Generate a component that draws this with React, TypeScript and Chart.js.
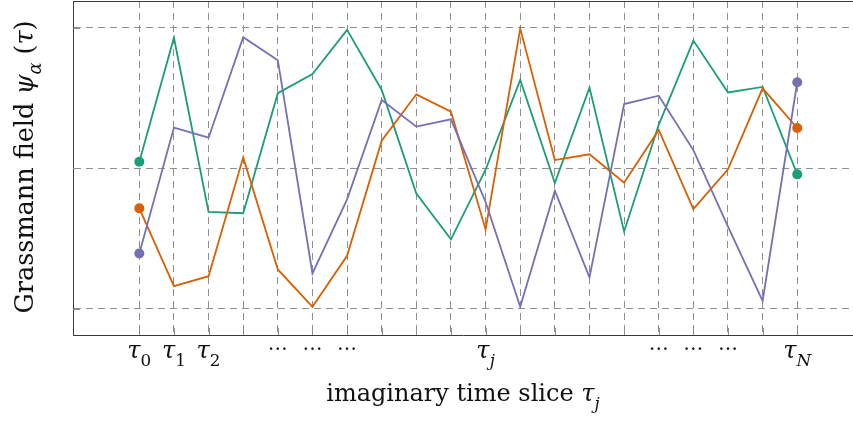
import React, { useEffect, useRef } from "react";
import { Chart, registerables } from "chart.js";

Chart.register(...registerables);

// Imaginary-time slices and their tick labels ("_" marks a subscript)
const sliceIndex = [0, 1, 2, 3, 4, 5, 6, 7, 8, 9, 10, 11, 12, 13, 14, 15, 16, 17, 18, 19];
const tickLabels = [
  "τ_0", "τ_1", "τ_2", "", "…", "…", "…", "", "", "",
  "τ_j", "", "", "", "", "…", "…", "…", "", "τ_N",
];
const levelTicks = [-1, 0, 1];

// Three Grassmann field components along the time slices
const fieldGreen = [0.047, 0.93, -0.31, -0.32, 0.535, 0.672, 0.986, 0.558, -0.18, -0.506, -0.01, 0.63, -0.105, 0.575, -0.45, 0.31, 0.91, 0.54, 0.58, -0.043];
const fieldOrange = [-0.285, -0.839, -0.768, 0.078, -0.72, -0.986, -0.623, 0.197, 0.527, 0.403, -0.435, 0.995, 0.059, 0.1, -0.103, 0.273, -0.29, -0.007, 0.57, 0.287];
const fieldPurple = [-0.606, 0.29, 0.218, 0.934, 0.77, -0.748, -0.221, 0.487, 0.297, 0.349, -0.24, -0.986, -0.16, -0.777, 0.458, 0.517, 0.13, -0.416, -0.944, 0.613];

const GREEN = "#1b9e77";
const ORANGE = "#d95f02";
const PURPLE = "#7570b3";
const FONT = '"DejaVu Serif", serif';
const FONT_SIZE = 24;
const Y_TITLE_SIZE = 25.5;
const AXIS_COLOR = "#3a3a3a";
const GRID_COLOR = "#8f8f8f";

type Seg = { t: string; it?: boolean; sub?: boolean };

function segFont(s: Seg, size: number) {
  const sz = s.sub ? size * 0.7 : size;
  return `${s.it ? "italic " : ""}${sz}px ${FONT}`;
}

function richWidth(ctx: CanvasRenderingContext2D, segs: Seg[], size: number) {
  let w = 0;
  for (const s of segs) {
    ctx.font = segFont(s, size);
    w += ctx.measureText(s.t).width;
  }
  return w;
}

function drawRich(ctx: CanvasRenderingContext2D, segs: Seg[], x: number, y: number, size: number) {
  let cx = x;
  ctx.textAlign = "left";
  ctx.textBaseline = "alphabetic";
  for (const s of segs) {
    ctx.font = segFont(s, size);
    ctx.fillText(s.t, cx, y + (s.sub ? size * 0.33 : 0));
    cx += ctx.measureText(s.t).width;
  }
}

function parseLabel(label: string): Seg[] {
  const [base, sub] = label.split("_");
  const segs: Seg[] = [{ t: base, it: base === "τ" }];
  if (sub !== undefined) segs.push({ t: sub, sub: true, it: /[A-Za-z]/.test(sub) });
  return segs;
}

const xTitle: Seg[] = [{ t: "imaginary time slice " }, { t: "τ", it: true }, { t: "j", it: true, sub: true }];
const yTitle: Seg[] = [
  { t: "Grassmann field " },
  { t: "ψ", it: true },
  { t: "α", it: true, sub: true },
  { t: " (" },
  { t: "τ", it: true },
  { t: ")" },
];

const framePlugin = {
  id: "frame",
  beforeDatasetsDraw(chart: any) {
    const { ctx, chartArea: a, scales } = chart;
    ctx.save();
    ctx.strokeStyle = AXIS_COLOR;
    ctx.lineWidth = 1;
    ctx.beginPath();
    ctx.moveTo(a.left, a.top + 0.5);
    ctx.lineTo(a.right, a.top + 0.5);
    ctx.stroke();
    // inward tick marks
    ctx.strokeStyle = GRID_COLOR;
    ctx.beginPath();
    for (const v of sliceIndex) {
      const x = Math.round(scales.x.getPixelForValue(v)) + 0.5;
      ctx.moveTo(x, a.bottom);
      ctx.lineTo(x, a.bottom - 7);
    }
    for (const v of levelTicks) {
      const y = Math.round(scales.y.getPixelForValue(v)) + 0.5;
      ctx.moveTo(a.left, y);
      ctx.lineTo(a.left + 7, y);
    }
    ctx.stroke();
    ctx.restore();
  },
  afterDraw(chart: any) {
    const { ctx, chartArea: a, scales } = chart;
    ctx.save();
    ctx.fillStyle = "#111";
    // tick labels
    sliceIndex.forEach((v, i) => {
      const label = tickLabels[i];
      if (!label) return;
      const x = scales.x.getPixelForValue(v);
      if (label === "…") {
        ctx.font = `20px ${FONT}`;
        ctx.textAlign = "center";
        ctx.textBaseline = "alphabetic";
        ctx.fillText(label, x, a.bottom + 15);
        return;
      }
      const segs = parseLabel(label);
      const w = richWidth(ctx, segs, FONT_SIZE);
      drawRich(ctx, segs, x - w / 2, a.bottom + 23, FONT_SIZE);
    });
    // x-axis title
    const xw = richWidth(ctx, xTitle, FONT_SIZE);
    drawRich(ctx, xTitle, (a.left + a.right) / 2 - xw / 2, 401, FONT_SIZE);
    // y-axis title
    const yw = richWidth(ctx, yTitle, Y_TITLE_SIZE);
    ctx.translate(33, (a.top + a.bottom) / 2 - 1);
    ctx.rotate(-Math.PI / 2);
    drawRich(ctx, yTitle, -yw / 2, 0, Y_TITLE_SIZE);
    ctx.restore();
  },
};

function series(values: number[]) {
  return sliceIndex.map((x, i) => ({ x, y: values[i] }));
}

function endRadii(n: number) {
  return sliceIndex.map((_, i) => (i === 0 || i === n - 1 ? 5 : 0));
}

export default function App() {
  const canvasRef = useRef<HTMLCanvasElement>(null);

  useEffect(() => {
    if (!canvasRef.current) return;
    const radii = endRadii(sliceIndex.length);
    const mk = (label: string, values: number[], color: string) => ({
      label,
      data: series(values),
      borderColor: color,
      backgroundColor: color,
      borderWidth: 1.8,
      pointRadius: radii,
      pointHoverRadius: radii,
      pointBorderWidth: 0,
      pointBackgroundColor: color,
      tension: 0,
      clip: 8,
    });
    const chart = new Chart(canvasRef.current, {
      type: "line",
      data: {
        datasets: [
          mk("ψ3", fieldPurple, PURPLE),
          mk("ψ2", fieldOrange, ORANGE),
          mk("ψ1", fieldGreen, GREEN),
        ],
      },
      options: {
        responsive: false,
        animation: false,
        events: [],
        layout: { autoPadding: false, padding: { left: 73, top: 1, right: 0, bottom: 94 } },
        plugins: { legend: { display: false }, tooltip: { enabled: false } },
        scales: {
          x: {
            type: "linear",
            min: -1.915,
            max: 20.61,
            afterBuildTicks: (scale: any) => {
              scale.ticks = sliceIndex.map((v) => ({ value: v }));
            },
            ticks: { display: false },
            grid: { color: GRID_COLOR, lineWidth: 1, drawTicks: false },
            border: { display: true, color: AXIS_COLOR, width: 1, dash: [7, 5] },
          },
          y: {
            type: "linear",
            min: -1.187,
            max: 1.1916,
            afterBuildTicks: (scale: any) => {
              scale.ticks = levelTicks.map((v) => ({ value: v }));
            },
            ticks: { display: false },
            grid: { color: GRID_COLOR, lineWidth: 1, drawTicks: false },
            border: { display: true, color: AXIS_COLOR, width: 1, dash: [7, 5] },
          },
        },
      },
      plugins: [framePlugin],
    });
    return () => chart.destroy();
  }, []);

  return (
    <div style={{ position: "fixed", left: 0, top: 0, width: 853, height: 429, background: "#fff" }}>
      <canvas ref={canvasRef} width={853} height={429} style={{ width: 853, height: 429, display: "block" }} />
    </div>
  );
}
